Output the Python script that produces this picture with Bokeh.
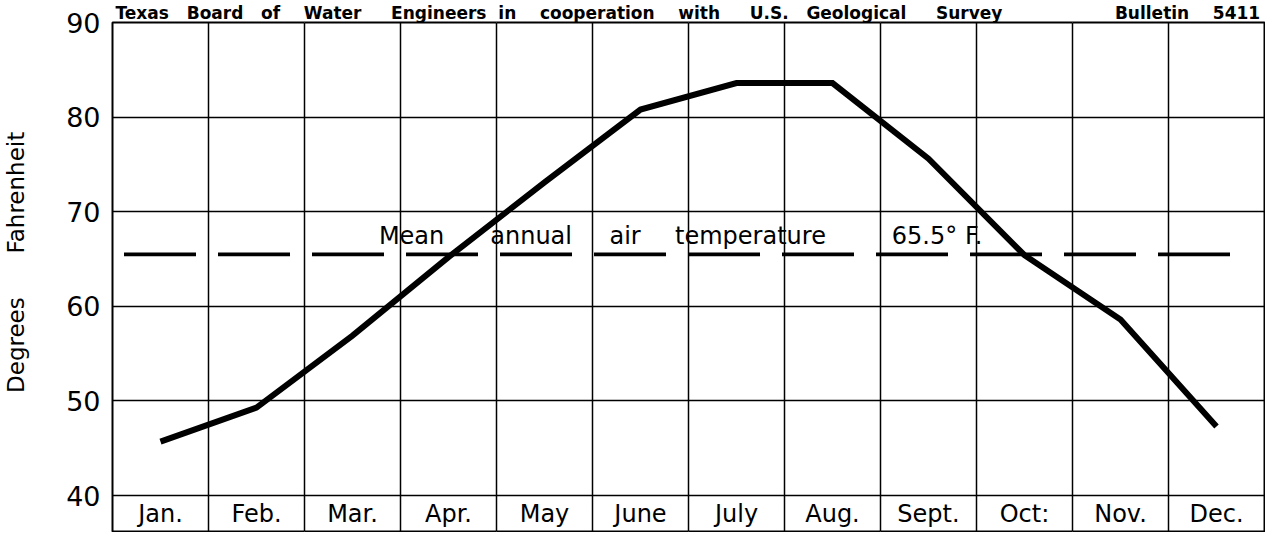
from bokeh.plotting import figure
from bokeh.models import Range1d, FixedTicker, Grid, Title, ColumnDataSource
from bokeh.core.properties import value
from bokeh.embed import file_html
from bokeh.resources import INLINE
import numpy as np

# ---- data ----
MONTHS = ["Jan.", "Feb.", "Mar.", "Apr.", "May", "June",
          "July", "Aug.", "Sept.", "Oct:", "Nov.", "Dec."]
TEMPS = [45.7, 49.3, 56.9, 65.2, 73.1, 80.8, 83.6, 83.6, 75.6, 65.4, 58.6, 47.3]
MEAN_ANNUAL = 65.5
Y_TICKS = [40, 50, 60, 70, 80, 90]
HEADER_WORDS = ["Texas", "Board", "of", "Water", "Engineers", "in", "cooperation",
                "with", "U.S.", "Geological", "Survey", "Bulletin", "5411"]
NOTE_WORDS = ["Mean", "annual", "air", "temperature", "65.5\u00b0 F."]

FONT = "DejaVu Sans"
NB = "\u00a0"

p = figure(width=1265, height=532, output_backend="svg", toolbar_location=None,
           x_range=Range1d(0, 12), y_range=Range1d(36.2, 90),
           x_axis_location=None, min_border_left=112, min_border_right=1,
           min_border_top=19, min_border_bottom=1)
p.background_fill_color = "white"
p.border_fill_color = "white"
p.outline_line_color = "black"
p.outline_line_width = 2

# header line (publication credit) as the title, words spread like the original
gaps = [3, 3, 4, 5, 2, 4, 4, 5, 3, 5, 19, 4]
header = HEADER_WORDS[0]
for g, w in zip(gaps, HEADER_WORDS[1:]):
    header += NB * g + w
p.title = Title(text=header, align="left", offset=3, standoff=0,
                text_font=FONT, text_font_size="17px", text_font_style="bold",
                text_color="black")

# y axis
ya = p.yaxis[0]
ya.ticker = FixedTicker(ticks=Y_TICKS)
ya.axis_line_color = None
ya.major_tick_line_color = None
ya.minor_tick_line_color = None
ya.major_tick_in = 0
ya.major_tick_out = 0
ya.major_label_standoff = 12
ya.major_label_text_font = FONT
ya.major_label_text_font_size = "27px"
ya.major_label_text_color = "black"
ya.axis_label = NB * 4 + "Degrees" + NB * 6 + "Fahrenheit"
ya.axis_label_text_font = FONT
ya.axis_label_text_font_size = "23px"
ya.axis_label_text_font_style = "normal"
ya.axis_label_text_color = "black"
ya.axis_label_standoff = 34

p.ygrid.grid_line_color = "black"
p.ygrid.grid_line_width = 1.5
p.ygrid.ticker = FixedTicker(ticks=Y_TICKS)

# vertical grid (month boundaries)
p.add_layout(Grid(dimension=0, ticker=FixedTicker(ticks=list(range(13))),
                  grid_line_color="black", grid_line_width=1.5))

centers = np.arange(len(MONTHS)) + 0.5

# mean annual dashed line
p.line([0.12, 11.83], [MEAN_ANNUAL, MEAN_ANNUAL], line_color="black",
       line_width=3.8, line_dash="72 22")

# temperature curve
p.line(centers, TEMPS, line_color="black", line_width=6, line_join="miter")

# month labels in the bottom band
src = ColumnDataSource(dict(x=centers, y=[38.1] * len(MONTHS), t=MONTHS))
p.text(x="x", y="y", text="t", source=src, text_align="center",
       text_baseline="middle", text_font=value(FONT), text_font_size="24px",
       text_color="black")

# annotation words above the dashed line
note_x = [2.775, 3.935, 5.177, 5.860, 8.118]
note_src = ColumnDataSource(dict(x=note_x, y=[MEAN_ANNUAL + 1.9] * len(NOTE_WORDS),
                                 t=NOTE_WORDS))
p.text(x="x", y="y", text="t", source=note_src, text_align="left",
       text_baseline="middle", text_font=value(FONT), text_font_size="24px",
       text_color="black")

open("out.html", "w").write(file_html(p, INLINE))
